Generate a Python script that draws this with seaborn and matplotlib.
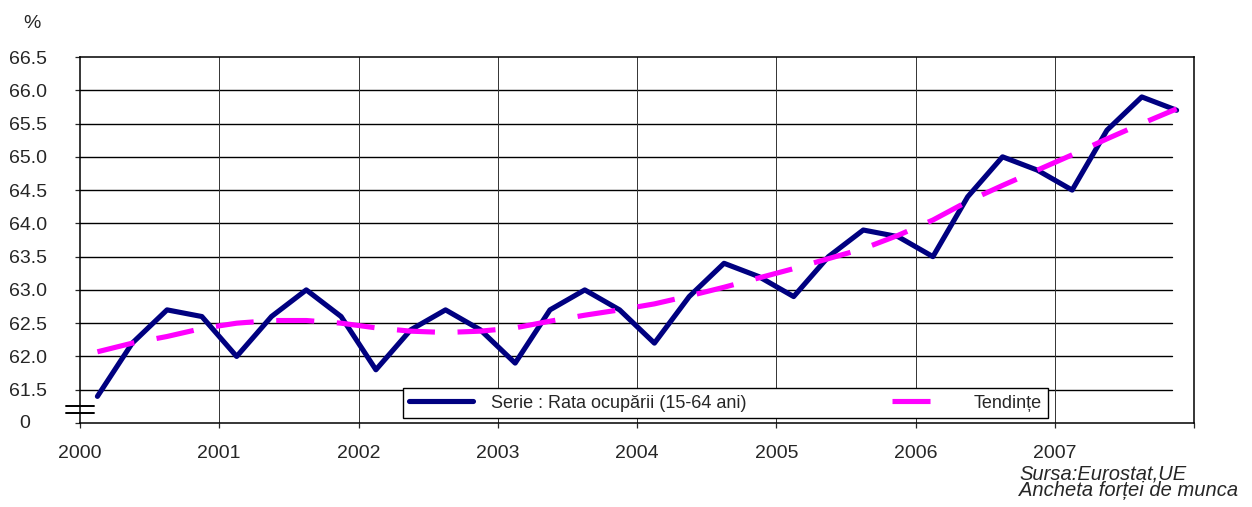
import numpy as np
import pandas as pd
import matplotlib
matplotlib.use('Agg')
import matplotlib.pyplot as plt
import matplotlib.transforms as mtransforms
import seaborn as sns

# --- Data ---
YEARS = [2000, 2001, 2002, 2003, 2004, 2005, 2006, 2007]
QUARTERS = [1, 2, 3, 4]

# Rata ocuparii 15-64 ani (%), trimestrial Q1..Q4 pe an
RATA_OCUPARII = [
    61.4, 62.2, 62.7, 62.6,
    62.0, 62.6, 63.0, 62.6,
    61.8, 62.4, 62.7, 62.4,
    61.9, 62.7, 63.0, 62.7,
    62.2, 62.9, 63.4, 63.2,
    62.9, 63.5, 63.9, 63.8,
    63.5, 64.4, 65.0, 64.8,
    64.5, 65.4, 65.9, 65.7,
]

# Tendinte (trend), aceleasi trimestre
TENDINTE = [
    62.07, 62.20, 62.30, 62.42,
    62.50, 62.54, 62.54, 62.50,
    62.43, 62.38, 62.36, 62.38,
    62.43, 62.53, 62.62, 62.70,
    62.79, 62.91, 63.04, 63.18,
    63.32, 63.47, 63.62, 63.82,
    64.05, 64.33, 64.57, 64.80,
    65.03, 65.27, 65.50, 65.72,
]

Y_TICKS = [61.0, 61.5, 62.0, 62.5, 63.0, 63.5, 64.0, 64.5, 65.0, 65.5, 66.0, 66.5]
Y_TICK_LABELS = ['', '61.5', '62.0', '62.5', '63.0', '63.5', '64.0', '64.5',
                 '65.0', '65.5', '66.0', '66.5']
BREAK_LABEL = '0'

SERIES_LABEL = 'Serie : Rata ocupării (15-64 ani)'
TREND_LABEL = 'Tendințe'
SOURCE_LINES = ['Sursa:Eurostat,UE', 'Ancheta forței de munca']

NAVY = '#000080'
MAGENTA = '#FF00FF'


def build_frame():
    # quarter midpoints on a continuous year axis
    rows = []
    i = 0
    for y in YEARS:
        for q in QUARTERS:
            t = y + (q - 0.5) / 4
            rows.append({'t': t, 'val': RATA_OCUPARII[i], 'serie': SERIES_LABEL})
            rows.append({'t': t, 'val': TENDINTE[i], 'serie': TREND_LABEL})
            i += 1
    return pd.DataFrame(rows)


sns.set_style('white')
plt.rcParams['font.family'] = ['Liberation Sans', 'DejaVu Sans']
plt.rcParams['font.size'] = 14

df = build_frame()

fig = plt.figure(figsize=(12.52, 5.07), dpi=100)
ax = fig.add_axes([80 / 1252, 84 / 507, 1114 / 1252, 366 / 507])

sns.lineplot(data=df, x='t', y='val', hue='serie', style='serie',
             palette={SERIES_LABEL: NAVY, TREND_LABEL: MAGENTA},
             dashes={SERIES_LABEL: '', TREND_LABEL: (7.4, 4.4)},
             linewidth=3.7, ax=ax, legend=False, zorder=3)

ax.set_xlim(YEARS[0], YEARS[-1] + 1)
ax.set_ylim(Y_TICKS[0], Y_TICKS[-1])

# gridlines (Excel style: horizontal ones stop a bit short of the right border)
for yv in Y_TICKS[1:-1]:
    ax.axhline(yv, xmax=0.98, color='black', lw=1.0, zorder=1)
for xv in YEARS[1:]:
    ax.axvline(xv, color='#333333', lw=0.7, zorder=1)

ax.set_xticks(YEARS + [YEARS[-1] + 1])
ax.set_xticklabels([str(y) for y in YEARS] + [''])
ax.set_yticks(Y_TICKS)
ax.set_yticklabels(Y_TICK_LABELS)
ax.tick_params(axis='x', direction='out', length=3.6, width=0.9, pad=12,
               labelsize=14, bottom=True)
ax.tick_params(axis='y', direction='out', length=3.6, width=0.9, pad=20,
               labelsize=14, left=True)
ax.set_xlabel('')
ax.set_ylabel('')
for s in ax.spines.values():
    s.set_color('black')
    s.set_linewidth(1.1)

# "0" label of the broken axis and the break marks
trans = mtransforms.blended_transform_factory(ax.transAxes, ax.transData)
ax.text(-50 / 1114, Y_TICKS[0], BREAK_LABEL, transform=trans,
        ha='right', va='center', fontsize=14)
for yoff in (17 / 366, 10 / 366):
    ax.plot([-14 / 1114, 14 / 1114], [yoff, yoff], transform=ax.transAxes,
            color='black', lw=1.4, clip_on=False)

# legend (trend handle shows a single dash, like the original)
handles = [
    plt.Line2D([], [], color=NAVY, lw=3.7),
    plt.Line2D([], [], color=MAGENTA, lw=3.7, dashes=(7.4, 12)),
]
leg = ax.legend(handles, [SERIES_LABEL, TREND_LABEL], ncol=2, mode='expand',
                bbox_to_anchor=(323 / 1114, 5 / 366, 645 / 1114, 40 / 366),
                loc='lower left', borderaxespad=0, frameon=True, fancybox=False,
                edgecolor='black', framealpha=1, handlelength=3.5,
                handletextpad=1.0, borderpad=0.35,
                prop={'size': 13})
leg.get_frame().set_linewidth(1.0)
leg.set_zorder(5)

fig.text(23 / 1252, 1 - 15 / 507, '%', ha='left', va='top', fontsize=14)
fig.text(1019 / 1252, 1 - 464 / 507, SOURCE_LINES[0], ha='left', va='top',
         fontsize=14.5, style='italic')
fig.text(1019 / 1252, 1 - 481 / 507, SOURCE_LINES[1], ha='left', va='top',
         fontsize=14.5, style='italic')

fig.savefig('out.png', dpi=100)
